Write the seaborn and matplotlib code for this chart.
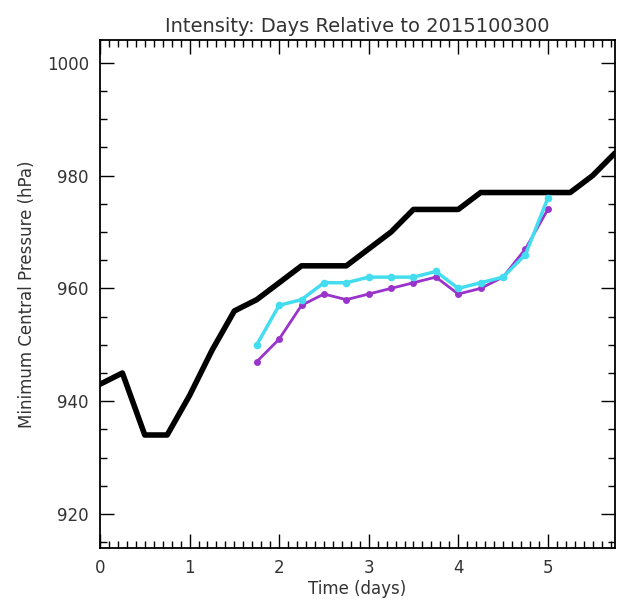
import pandas as pd
import numpy as np
import matplotlib
matplotlib.use("Agg")
import matplotlib.pyplot as plt
import seaborn as sns
from matplotlib.ticker import MultipleLocator

# best track (black), every 6 h
obs_days = [0, 0.25, 0.5, 0.75, 1.0, 1.25, 1.5, 1.75, 2.0, 2.25, 2.5, 2.75,
            3.0, 3.25, 3.5, 3.75, 4.0, 4.25, 4.5, 4.75, 5.0, 5.25, 5.5, 5.75]
obs_pres = [943, 945, 934, 934, 941, 949, 956, 958, 961, 964, 964, 964,
            967, 970, 974, 974, 974, 977, 977, 977, 977, 977, 980, 984]

# forecasts
fc_days = [1.75, 2.0, 2.25, 2.5, 2.75, 3.0, 3.25, 3.5, 3.75, 4.0, 4.25, 4.5, 4.75, 5.0]
purple_pres = [947, 951, 957, 959, 958, 959, 960, 961, 962, 959, 960, 962, 967, 974]
cyan_pres = [950, 957, 958, 961, 961, 962, 962, 962, 963, 960, 961, 962, 966, 976]

sns.set_style("white")
plt.rcParams['font.family'] = ['DejaVu Sans']
txt = '#333333'

fig = plt.figure(figsize=(6.25, 6.1), dpi=100)
ax = fig.add_axes([0.16, 0.102, 0.824, 0.832])

sns.lineplot(x=obs_days, y=obs_pres, color='black', linewidth=4, ax=ax)
sns.lineplot(x=fc_days, y=purple_pres, color='#9933cc', linewidth=2,
             marker='o', markersize=5, markeredgewidth=0, ax=ax)
sns.lineplot(x=fc_days, y=cyan_pres, color='#44ddf0', linewidth=2.5,
             marker='o', markersize=5.5, markeredgewidth=0, ax=ax)

ax.set_xlim(0, 5.75)
ax.set_ylim(914, 1004)
ax.xaxis.set_major_locator(MultipleLocator(1))
ax.xaxis.set_minor_locator(MultipleLocator(0.1))
ax.yaxis.set_major_locator(MultipleLocator(20))
ax.yaxis.set_minor_locator(MultipleLocator(5))
ax.tick_params(which='both', direction='in', top=True, right=True,
               bottom=True, left=True,
               colors='black', labelcolor=txt, labelsize=12, width=1)
ax.tick_params(which='major', length=10, pad=8)
ax.tick_params(which='minor', length=5)
for s in ax.spines.values():
    s.set_linewidth(1.3)
    s.set_color('black')

ax.set_title("Intensity: Days Relative to 2015100300", color=txt, fontsize=14, pad=6)
ax.set_xlabel("Time (days)", color=txt, fontsize=12, labelpad=2)
ax.set_ylabel("Minimum Central Pressure (hPa)", color=txt, fontsize=12, labelpad=8)

fig.savefig("out.png", dpi=100)
